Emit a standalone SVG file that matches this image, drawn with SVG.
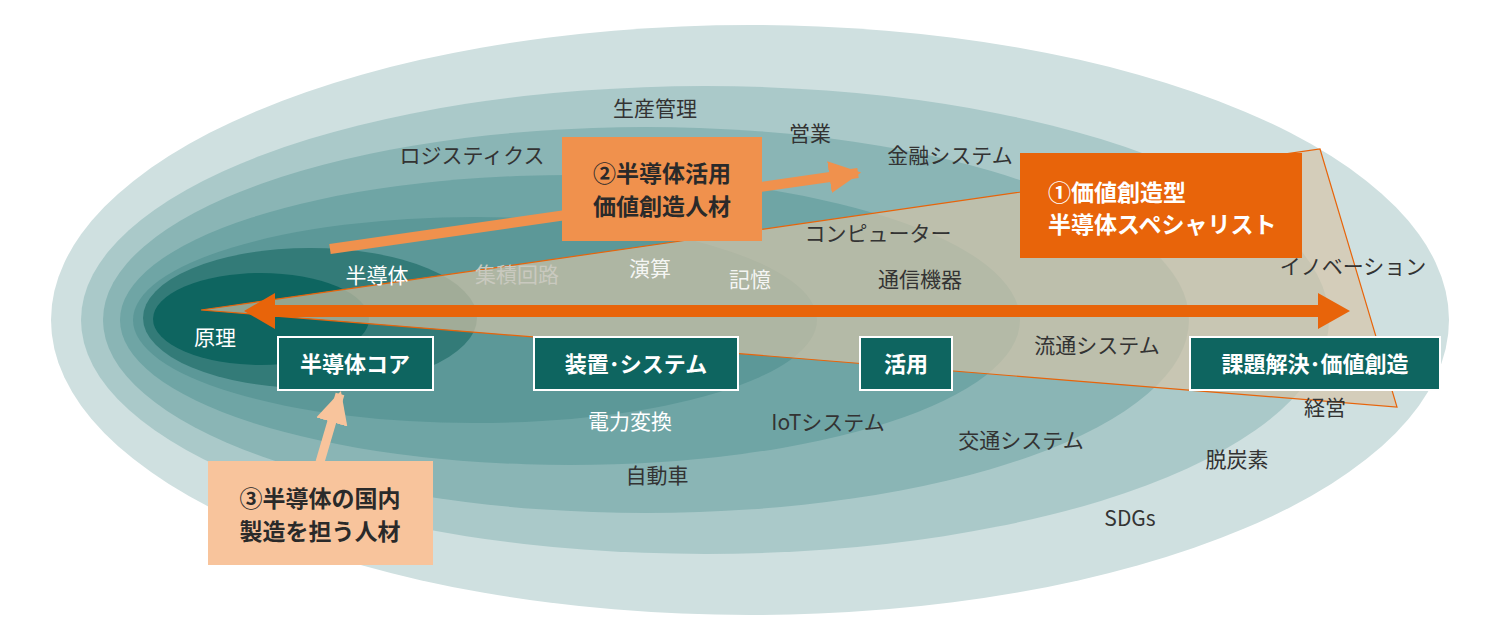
<svg xmlns="http://www.w3.org/2000/svg" width="1500" height="640" viewBox="0 0 1500 640">
<defs>
<style>
text{font-family:"Noto Sans CJK JP","Noto Sans",sans-serif;text-anchor:middle}
.l{font-size:21px;fill:#333}
.w{font-size:21px;fill:#fff}
.b{font-size:22px;font-weight:bold;fill:#fff}
.t{font-size:23px;font-weight:bold}
.nb{fill:#0e6560;stroke:#fff;stroke-width:2}
</style>
<marker id="a2" viewBox="0 0 10 10" refX="9" refY="5" markerWidth="3.2" markerHeight="3.2" orient="auto"><path d="M0,0L10,5L0,10Z" fill="#f0914d"/></marker>
<marker id="a3" viewBox="0 0 10 10" refX="9" refY="5" markerWidth="3.6" markerHeight="3.6" orient="auto"><path d="M0,0L10,5L0,10Z" fill="#f8c49c"/></marker>
</defs>
<rect width="1500" height="640" fill="#fff"/>
<g id="rings">
<ellipse cx="750" cy="320" rx="699" ry="295" fill="#cfe0e0"/>
<ellipse cx="705" cy="320" rx="624" ry="234" fill="#aac9c9"/>
<ellipse cx="646" cy="320" rx="543" ry="193" fill="#8ab5b5"/>
<ellipse cx="570" cy="320" rx="450" ry="145" fill="#6fa5a5"/>
<ellipse cx="475" cy="320" rx="342" ry="103" fill="#5c9898"/>
<ellipse cx="310" cy="318" rx="167" ry="70" fill="#337b78"/>
<ellipse cx="261" cy="319" rx="108" ry="46" fill="#0e6560"/>
</g>
<polygon id="wedge" points="201,310 1320,149 1397,407" fill="#d6c4a8" fill-opacity="0.68" stroke="#e8640a" stroke-width="1.2"/>
<g id="labels">
<text class="l" x="655" y="116">生産管理</text>
<text class="l" x="472" y="163">ロジスティクス</text>
<text class="l" x="810" y="141">営業</text>
<text class="l" x="950" y="163">金融システム</text>
<text class="l" x="878" y="241">コンピューター</text>
<text class="w" x="377" y="283">半導体</text>
<text x="517" y="282" style="font-size:21px;fill:#c9c9bf">集積回路</text>
<text class="w" x="650" y="276" fill-opacity="0.9">演算</text>
<text class="w" x="750" y="287" fill-opacity="0.9">記憶</text>
<text class="l" x="920" y="287">通信機器</text>
<text class="l" x="1353" y="274">イノベーション</text>
<text class="w" x="215" y="345">原理</text>
<text class="l" x="1097" y="353">流通システム</text>
<text class="l" x="1325" y="415">経営</text>
<text class="w" x="630" y="429">電力変換</text>
<text class="l" x="828" y="430">IoTシステム</text>
<text class="l" x="1021" y="448">交通システム</text>
<text class="l" x="657" y="483">自動車</text>
<text class="l" x="1237" y="467">脱炭素</text>
<text class="l" x="1130" y="526">SDGs</text>
</g>
<g id="connectors">
<path d="M275,305H1318V293L1350,311L1318,329V317H275V329L244,311L275,293Z" fill="#e8640a"/>
<line x1="330" y1="249" x2="858" y2="173" stroke="#f0914d" stroke-width="10" marker-end="url(#a2)"/>
<line x1="320" y1="462" x2="340" y2="394" stroke="#f8c49c" stroke-width="9" marker-end="url(#a3)"/>
</g>
<g id="box2"><rect x="562" y="137" width="200" height="104" fill="#f0914d"/>
<text class="t" x="662" y="182" fill="#2a2a2a">②半導体活用</text><text class="t" x="662" y="215" fill="#2a2a2a">価値創造人材</text></g>
<g id="box1"><rect x="1020" y="153" width="282" height="105" fill="#e8640a"/>
<text class="t" x="1048" y="201" fill="#fff" style="text-anchor:start">①価値創造型</text><text class="t" x="1048" y="233" fill="#fff" style="text-anchor:start">半導体スペシャリスト</text></g>
<g id="box3"><rect x="208" y="461" width="225" height="104" fill="#f8c49c"/>
<text class="t" x="320" y="507" fill="#2a2a2a">③半導体の国内</text><text class="t" x="320" y="540" fill="#2a2a2a">製造を担う人材</text></g>
<g id="core"><rect class="nb" x="278" y="337" width="155" height="53"/><text class="b" x="355" y="372">半導体コア</text></g>
<g id="system"><rect class="nb" x="534" y="337" width="204" height="53"/><text class="b" x="636" y="372">装置･システム</text></g>
<g id="use"><rect class="nb" x="860" y="337" width="92" height="53"/><text class="b" x="906" y="372">活用</text></g>
<g id="value"><rect class="nb" x="1190" y="337" width="250" height="53"/><text class="b" x="1315" y="372">課題解決･価値創造</text></g>
</svg>
